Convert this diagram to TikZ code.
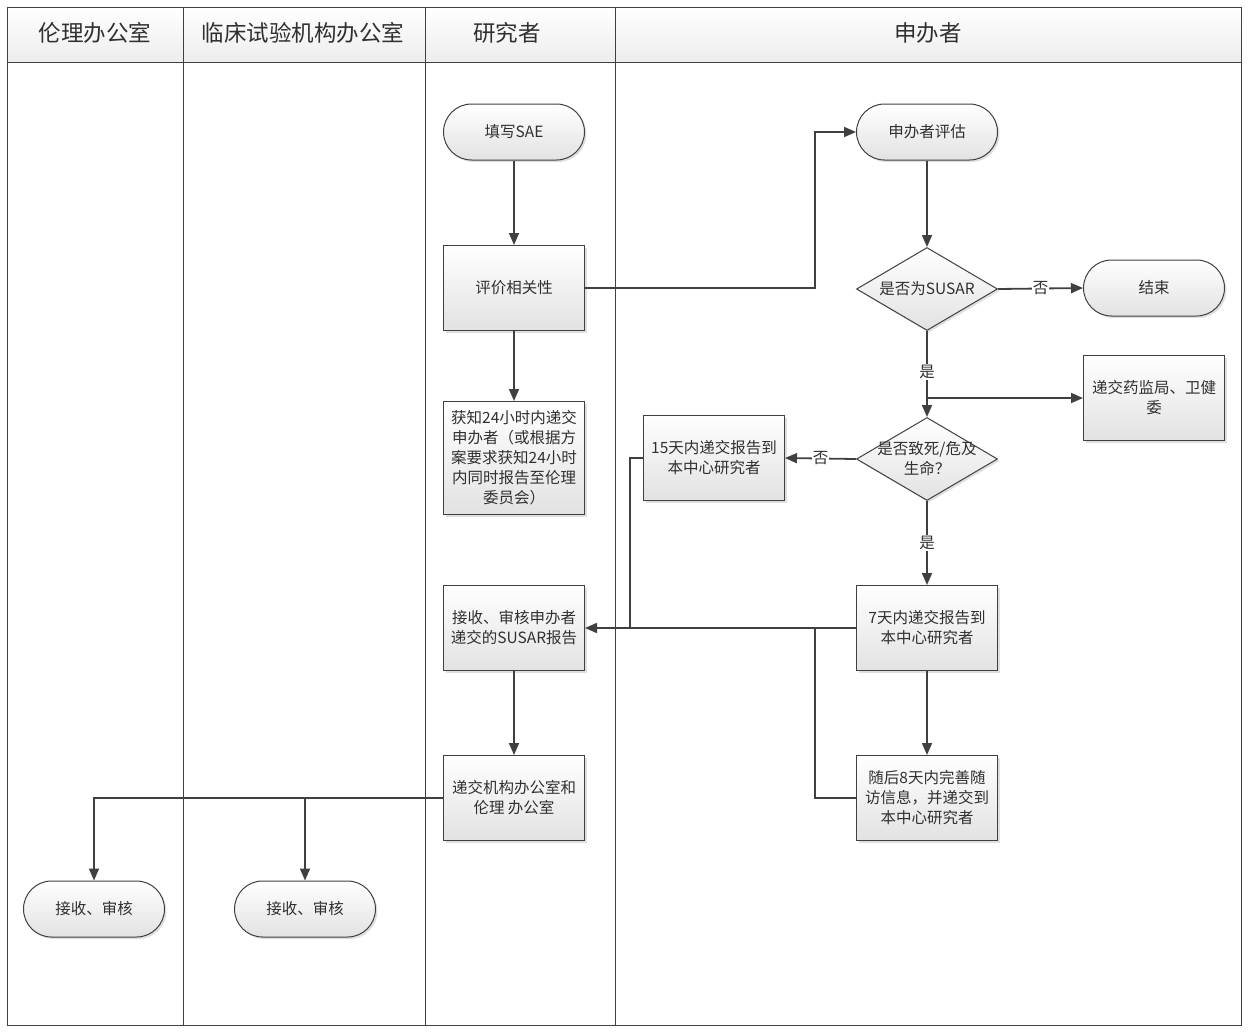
\documentclass[tikz,border=0pt]{standalone}
\usepackage{fontspec}
\setmainfont{Noto Sans CJK SC}
\usetikzlibrary{arrows.meta,shapes.geometric,shadows}
\definecolor{linec}{HTML}{404040}
\definecolor{txt}{HTML}{303030}
\definecolor{boxg}{HTML}{E2E2E2}
\tikzset{
  base/.style={draw=linec, line width=1pt, top color=white, bottom color=boxg, text=txt,
    align=center, font=\fontsize{15.5}{20}\selectfont, inner sep=2pt,
    drop shadow={opacity=0.25, shadow xshift=2pt, shadow yshift=-2pt}},
  proc/.style={base, minimum width=141pt, minimum height=85pt},
  term/.style={base, rounded corners=28pt, minimum width=141pt, minimum height=56pt},
  dia/.style={base, diamond, minimum width=141pt, minimum height=83pt, inner sep=0pt},
  dtext/.style={text=txt, align=center, font=\fontsize{15.5}{20}\selectfont},
  conn/.style={draw=linec, line width=1.8pt, -{Triangle[length=12pt,width=10pt]}},
  plain/.style={draw=linec, line width=1.8pt},
  lbl/.style={fill=white, inner sep=1pt, text=txt, font=\fontsize{15.5}{18}\selectfont},
  head/.style={text=txt, font=\fontsize{22.5}{26}\selectfont},
}
\begin{document}
\begin{tikzpicture}[x=1pt,y=-1pt]
\useasboundingbox (0,0) rectangle (1248,1034);
% header
\shade[top color=white, bottom color=gray!14] (7,7) rectangle (1241,62);
\draw[linec, line width=1pt] (7,7) rectangle (1241,1025);
\draw[linec, line width=1pt] (7,62) -- (1241,62);
\foreach \x in {183,425,615} \draw[linec, line width=1pt] (\x,7) -- (\x,1025);
\node[head] (h1) at (95,33) {伦理办公室};
\node[head] (h2) at (303,33) {临床试验机构办公室};
\node[head] (h3) at (507,33) {研究者};
\node[head] (h4) at (928,33) {申办者};
% nodes
\node[term] (sae) at (514,132) {填写SAE};
\node[proc] (eval) at (514,288) {评价相关性};
\node[proc, minimum height=113pt] (know) at (514,458) {获知24小时内递交\\申办者（或根据方\\案要求获知24小时\\内同时报告至伦理\\委员会）};
\node[proc] (recv) at (514,628) {接收、审核申办者\\递交的SUSAR报告};
\node[proc] (sub) at (514,798) {递交机构办公室和\\伦理 办公室};
\node[term] (spe) at (927,132) {申办者评估};
\node[dia] (d1) at (927,289) {};
\node[dtext] (d1t) at (d1.center) {是否为SUSAR};
\node[term] (fin) at (1154,288) {结束};
\node[proc] (reg) at (1154,398) {递交药监局、卫健\\委};
\node[dia] (d2) at (927,459) {};
\node[dtext] (d2t) at (d2.center) {是否致死/危及\\生命？};
\node[proc] (d15) at (714,458) {15天内递交报告到\\本中心研究者};
\node[proc] (d7) at (927,628) {7天内递交报告到\\本中心研究者};
\node[proc] (fol) at (927,798) {随后8天内完善随\\访信息，并递交到\\本中心研究者};
\node[term] (eth) at (94,909) {接收、审核};
\node[term] (inst) at (305,909) {接收、审核};
% connectors
\draw[conn] (sae.south) -- (eval.north);
\draw[conn] (eval.south) -- (know.north);
\draw[conn] (eval.east) -- (815,288) |- (spe.west);
\draw[conn] (spe.south) -- (d1.north);
\draw[conn] (d1.east) -- node[lbl] {否} (fin.west);
\draw[conn] (d1.south) -- node[lbl, pos=0.48] {是} (d2.north);
\draw[conn] (d1.south |- reg.west) -- (reg.west);
\draw[conn] (d2.west) -- node[lbl] {否} (d15.east);
\draw[conn] (d2.south) -- node[lbl] {是} (d7.north);
\draw[conn] (d7.west) -- (recv.east);
\draw[conn] (d7.south) -- (fol.north);
\coordinate (j1) at (630,628);
\coordinate (j2) at (815,628);
\draw[plain] (d15.west) -| (j1);
\draw[plain] (fol.west) -| (j2);
\draw[conn] (recv.south) -- (sub.north);
\draw[conn] (sub.west) -| (eth.north);
\draw[conn] (sub.west -| inst.north) -- (inst.north);
\end{tikzpicture}
\end{document}
